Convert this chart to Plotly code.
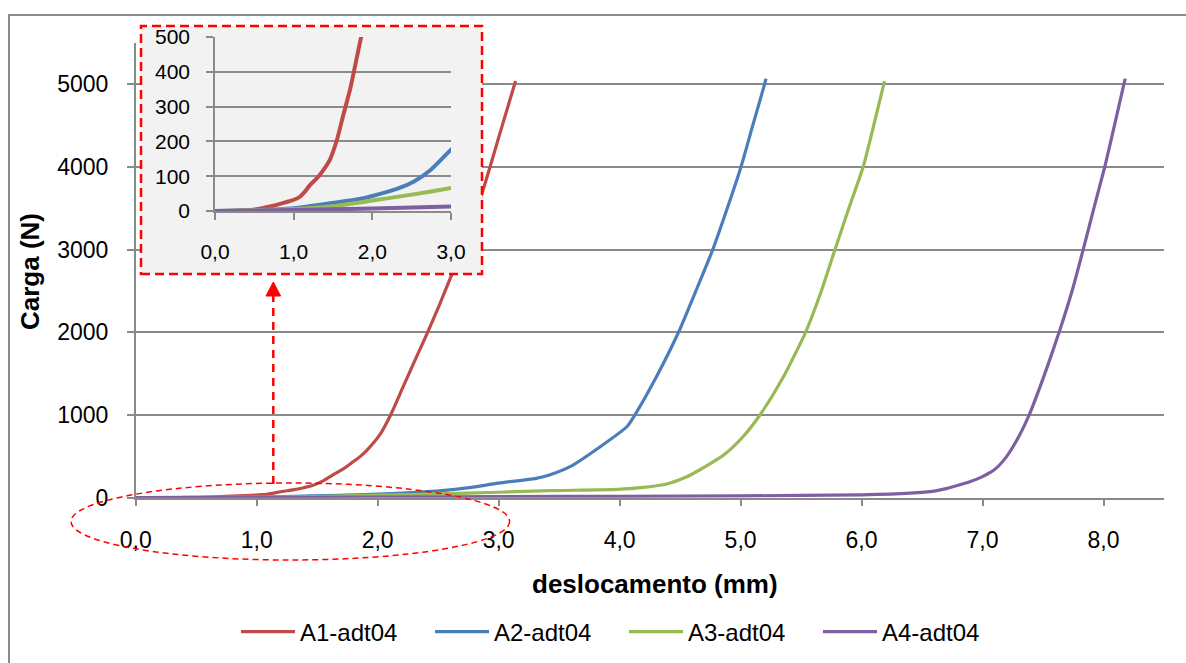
import plotly.graph_objects as go

# Load-displacement curves (deslocamento in mm, carga in N)
a1_x = [0.0, 0.2, 0.45, 0.6, 0.74, 0.85, 0.96, 1.04, 1.08, 1.14, 1.21, 1.30, 1.38, 1.46,
        1.50, 1.55, 1.63, 1.72, 1.80, 1.86, 1.91, 2.02, 2.107, 2.21, 2.32, 2.413, 2.51,
        2.61, 2.74, 2.87, 3.01, 3.14]
a1_y = [0, 0, 3, 8, 15, 22, 29, 36, 41, 55, 75, 95, 118, 147,
        170, 204, 275, 352, 438, 503, 572, 765, 1000, 1340, 1700, 2000, 2330,
        2690, 3190, 3717, 4404, 5040]

a2_x = [0.0, 0.5, 1.0, 1.46, 1.89, 2.0, 2.32, 2.53, 2.74, 3.0, 3.31, 3.42, 3.59, 3.84,
        4.06, 4.126, 4.30, 4.49, 4.63, 4.77, 4.89, 5.003, 5.10, 5.198, 5.21]
a2_y = [0, 2, 8, 22, 37, 43, 64, 85, 118, 176, 234, 274, 375, 617,
        858, 1000, 1450, 2010, 2500, 3000, 3500, 4000, 4500, 5000, 5069]

a3_x = [0.0, 1.0, 1.5, 2.0, 2.5, 3.0, 3.42, 3.98, 4.20, 4.39, 4.55, 4.66, 4.86, 5.02,
        5.16, 5.35, 5.54, 5.66, 5.771, 5.89, 6.013, 6.10, 6.19]
a3_y = [0, 6, 14, 30, 47, 66, 85, 101, 125, 166, 250, 335, 516, 737,
        1000, 1450, 2010, 2470, 2960, 3480, 4000, 4500, 5040]

a4_x = [0.0, 1.0, 2.0, 3.0, 4.0, 5.0, 6.0, 6.4, 6.6, 6.7, 6.8, 6.9, 7.0, 7.1, 7.2, 7.3,
        7.385, 7.51, 7.633, 7.74, 7.832, 7.92, 8.01, 8.09, 8.168, 8.18]
a4_y = [0, 3, 7, 13, 17, 22, 35, 55, 80, 110, 150, 195, 255, 340, 500, 740,
        1000, 1480, 2000, 2500, 3000, 3500, 4000, 4500, 5000, 5069]

series_names = ["A1-adt04", "A2-adt04", "A3-adt04", "A4-adt04"]
series_colors = ["#BE4B48", "#4A7EBB", "#98B954", "#7D60A0"]

x_ticks = [0, 1, 2, 3, 4, 5, 6, 7, 8]
x_ticktext = ["0,0", "1,0", "2,0", "3,0", "4,0", "5,0", "6,0", "7,0", "8,0"]
y_ticks = [0, 1000, 2000, 3000, 4000, 5000]
inset_x_ticks = [0, 1, 2, 3]
inset_x_ticktext = ["0,0", "1,0", "2,0", "3,0"]
inset_y_ticks = [0, 100, 200, 300, 400, 500]

W, H = 1186, 663
FONT = "Liberation Sans, Arial, sans-serif"
GRID = "#8a8a8a"


def fx(px):
    return px / W


def fy(py):
    return 1 - py / H


xs = [a1_x, a2_x, a3_x, a4_x]
ys = [a1_y, a2_y, a3_y, a4_y]

fig = go.Figure()

# main chart
for name, color, x, y in zip(series_names, series_colors, xs, ys):
    fig.add_trace(go.Scatter(x=x, y=y, name=name, mode="lines",
                             line=dict(color=color, width=3.2, shape="spline", smoothing=0.6),
                             xaxis="x", yaxis="y"))

# backing panel of the zoomed view (empty subplot, only its background is used)
fig.add_trace(go.Scatter(x=[None], y=[None], showlegend=False, hoverinfo="skip",
                         xaxis="x2", yaxis="y2"))

# zoomed view of the first 3 mm
for name, color, x, y in zip(series_names, series_colors, xs, ys):
    fig.add_trace(go.Scatter(x=x, y=y, name=name, mode="lines", showlegend=False,
                             line=dict(color=color, width=4, shape="spline", smoothing=0.6),
                             xaxis="x3", yaxis="y3"))

axis_font = dict(family=FONT, size=23, color="black")
inset_font = dict(family=FONT, size=21, color="black")

common = dict(automargin=False, zeroline=False, showline=True, linecolor=GRID,
              linewidth=1.5, ticks="outside", ticklen=7, tickcolor=GRID, tickwidth=1.5)

fig.update_layout(
    width=W, height=H,
    margin=dict(l=0, r=0, t=0, b=0, pad=0, autoexpand=False),
    paper_bgcolor="white",
    plot_bgcolor="#f2f2f2",
    font=dict(family=FONT, color="black"),
    xaxis=dict(domain=[fx(135.7), fx(1164)], range=[0, 8.5], tickvals=x_ticks,
               ticktext=x_ticktext, showgrid=False, tickfont=axis_font,
               ticklabelstandoff=14, anchor="y", **common),
    yaxis=dict(domain=[fy(497.7), fy(43)], range=[0, 5500], tickvals=y_ticks,
               showgrid=True, gridcolor=GRID, gridwidth=1.5, tickfont=axis_font,
               ticklabelstandoff=14, anchor="x", **common),
    xaxis2=dict(domain=[fx(141), fx(482)], range=[0, 1], visible=False, anchor="y2",
                automargin=False),
    yaxis2=dict(domain=[fy(274), fy(26)], range=[0, 1], visible=False, anchor="x2",
                automargin=False),
    xaxis3=dict(domain=[fx(215), fx(451)], range=[0, 3], tickvals=inset_x_ticks,
                ticktext=inset_x_ticktext, showgrid=False, tickfont=inset_font,
                ticklabelstandoff=14, anchor="y3", **common),
    yaxis3=dict(domain=[fy(211), fy(37)], range=[0, 500], tickvals=inset_y_ticks,
                showgrid=True, gridcolor=GRID, gridwidth=1.5, tickfont=inset_font,
                ticklabelstandoff=12, anchor="x3", **common),
    legend=dict(orientation="h", x=fx(236), xanchor="left", y=fy(632), yanchor="middle",
                font=dict(family=FONT, size=24, color="black"),
                entrywidth=125, entrywidthmode="pixels", itemwidth=54,
                bgcolor="rgba(0,0,0,0)", traceorder="normal"),
    showlegend=True,
)

shapes = [
    # white plot area of the main chart
    dict(type="rect", xref="paper", yref="paper", layer="below",
         x0=fx(135.7), x1=fx(1164), y0=fy(497.7), y1=fy(43),
         fillcolor="white", line=dict(width=0)),
    # outer chart frame
    dict(type="rect", xref="paper", yref="paper", layer="above",
         x0=fx(9), x1=fx(1200), y0=fy(680), y1=fy(15),
         fillcolor="rgba(0,0,0,0)", line=dict(color="#8c8c8c", width=2)),
    # dashed frame around the zoomed view
    dict(type="rect", xref="paper", yref="paper", layer="above",
         x0=fx(141), x1=fx(482), y0=fy(274), y1=fy(26),
         fillcolor="rgba(0,0,0,0)", line=dict(color="#FF0000", width=2.5, dash="9px,5px")),
    # dashed ellipse marking the region near the origin
    dict(type="circle", xref="paper", yref="paper", layer="above",
         x0=fx(71), x1=fx(509.6), y0=fy(560), y1=fy(483),
         line=dict(color="#FF0000", width=1.5, dash="6px,4px")),
    # dashed pointer from the ellipse up to the zoomed view
    dict(type="line", xref="paper", yref="paper", layer="above",
         x0=fx(273.3), x1=fx(273.3), y0=fy(484), y1=fy(296),
         line=dict(color="#FF0000", width=2.5, dash="8px,6px")),
    dict(type="path", xref="paper", yref="paper", layer="above",
         path=f"M {fx(273.3)},{fy(282)} L {fx(266)},{fy(296)} L {fx(280.6)},{fy(296)} Z",
         fillcolor="#FF0000", line=dict(color="#FF0000", width=1)),
]
fig.update_layout(shapes=shapes)

fig.add_annotation(text="<b>deslocamento (mm)</b>", xref="paper", yref="paper",
                   x=fx(655), y=fy(584), xanchor="center", yanchor="middle",
                   showarrow=False, font=dict(family=FONT, size=26, color="black"))
fig.add_annotation(text="<b>Carga (N)</b>", xref="paper", yref="paper",
                   x=fx(30), y=fy(272), xanchor="center", yanchor="middle",
                   textangle=-90, showarrow=False,
                   font=dict(family=FONT, size=26, color="black"))

# the page body has a default margin; drop it so the figure fills the window
fig.write_html("out.html", post_script="document.body.style.margin='0';")
